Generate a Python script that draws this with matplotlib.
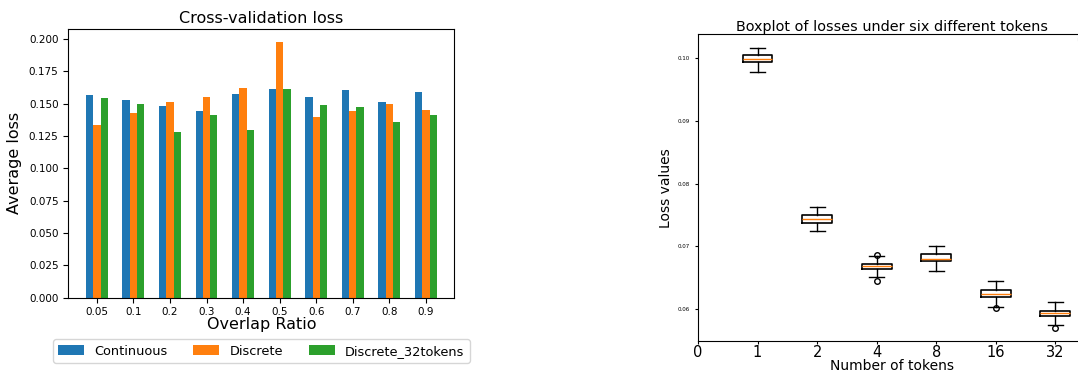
import numpy as np
from matplotlib import pyplot as plt

# left panel data
ratios = ['0.05', '0.1', '0.2', '0.3', '0.4', '0.5', '0.6', '0.7', '0.8', '0.9']
continuous = [0.1568, 0.1532, 0.1486, 0.1440, 0.1578, 0.1617, 0.1555, 0.1609, 0.1517, 0.1594]
discrete = [0.1332, 0.1432, 0.1517, 0.1555, 0.1624, 0.1979, 0.1401, 0.1440, 0.1501, 0.1455]
discrete32 = [0.1547, 0.1501, 0.1285, 0.1409, 0.1293, 0.1617, 0.1493, 0.1478, 0.1362, 0.1409]

# right panel data (box statistics per token count)
tokens = ['0', '1', '2', '4', '8', '16', '32']
med = [0.0999, 0.0743, 0.0668, 0.0680, 0.0624, 0.0593]
q1 = [0.0994, 0.0737, 0.0663, 0.0676, 0.0619, 0.0588]
q3 = [0.1005, 0.0749, 0.0672, 0.0687, 0.0630, 0.0597]
whislo = [0.0978, 0.0725, 0.0651, 0.0661, 0.0602, 0.0574]
whishi = [0.1017, 0.0762, 0.0684, 0.0701, 0.0645, 0.0611]
fliers = [[], [], [0.0686, 0.0645], [], [0.0601], [0.0570]]

fig = plt.figure(figsize=(10.78, 3.75), dpi=100)

ax1 = fig.add_axes([0.0634, 0.2061, 0.3581, 0.7166])
x = np.arange(len(ratios))
w = 0.2
ax1.bar(x - w, continuous, w, label='Continuous')
ax1.bar(x, discrete, w, label='Discrete')
ax1.bar(x + w, discrete32, w, label='Discrete_32tokens')
ax1.set_xticks(x)
ax1.set_xticklabels(ratios)
ax1.tick_params(labelsize=7.5)
ax1.set_title('Cross-validation loss', fontsize=11.5, pad=4)
ax1.set_xlabel('Overlap Ratio', fontsize=11.5, labelpad=0)
ax1.set_ylabel('Average loss', fontsize=11.5, labelpad=5)
ax1.legend(loc='upper center', bbox_to_anchor=(0.5, -0.131), ncol=3, fontsize=9.3)

ax2 = fig.add_axes([0.6475, 0.0899, 0.359, 0.8195])
stats = []
for i in range(len(med)):
    stats.append({'med': med[i], 'q1': q1[i], 'q3': q3[i],
                  'whislo': whislo[i], 'whishi': whishi[i], 'fliers': fliers[i]})
ax2.bxp(stats, positions=range(1, len(med) + 1),
        flierprops={'marker': 'o', 'markersize': 4, 'markerfacecolor': 'none'},
        boxprops={'linewidth': 1.2})
ax2.set_xticks(range(len(tokens)))
ax2.set_xticklabels(tokens)
ax2.set_xlim(0, 6.5)
ax2.set_ylim(0.0548, 0.1039)
ax2.set_yticks([0.06, 0.07, 0.08, 0.09, 0.10])
ax2.tick_params(axis='y', labelsize=4, length=2)
ax2.tick_params(axis='x', labelsize=10.5, length=2.5, pad=0.5)
ax2.set_title('Boxplot of losses under six different tokens', fontsize=10.4, pad=2)
ax2.set_xlabel('Number of tokens', fontsize=10, labelpad=-1)
ax2.set_ylabel('Loss values', fontsize=10)
ax2.legend(handles=[], loc='upper right', fontsize=4)

fig.savefig('out.png', dpi=100)
